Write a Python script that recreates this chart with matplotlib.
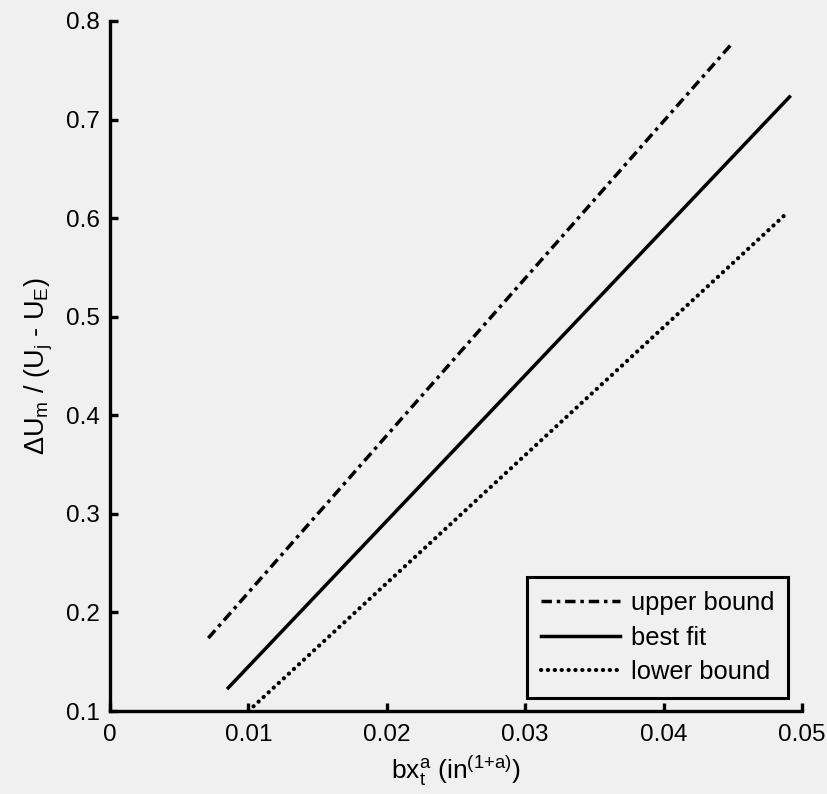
import matplotlib
matplotlib.use("Agg")
import matplotlib.pyplot as plt

plt.rcParams['font.family'] = ['Liberation Sans', 'DejaVu Sans']
plt.rcParams['mathtext.fontset'] = 'custom'
plt.rcParams['mathtext.rm'] = 'Liberation Sans'
plt.rcParams['mathtext.it'] = 'Liberation Sans'
plt.rcParams['mathtext.bf'] = 'Liberation Sans:bold'

# Data (endpoints of straight lines)
labels = ['upper bound', 'best fit', 'lower bound']
upper_x = [0.0071, 0.0450]
upper_y = [0.174, 0.778]
best_x = [0.00854, 0.0491]
best_y = [0.1235, 0.723]
lower_x = [0.0100, 0.0489]
lower_y = [0.100, 0.605]
xticks = [0, 0.01, 0.02, 0.03, 0.04, 0.05]
xticklabels = ['0', '0.01', '0.02', '0.03', '0.04', '0.05']
yticks = [0.1, 0.2, 0.3, 0.4, 0.5, 0.6, 0.7, 0.8]
yticklabels = ['0.1', '0.2', '0.3', '0.4', '0.5', '0.6', '0.7', '0.8']

bg = '#f0f0f0'
fig = plt.figure(figsize=(8.28, 7.94), dpi=100, facecolor=bg)
ax = fig.add_axes([0.1329, 0.1045, 0.8357, 0.8691])
ax.set_facecolor(bg)

lw = 2.5
ax.plot(upper_x, upper_y, color='black', lw=lw, linestyle=(0, (3.0, 1.4, 1.0, 1.4)), label=labels[0])
ax.plot(best_x, best_y, color='black', lw=lw, linestyle='-', label=labels[1])
ax.plot(lower_x, lower_y, color='black', lw=3.0, linestyle=(0, (0.05, 1.6)),
        dash_capstyle='round', label=labels[2])

ax.set_xlim(0, 0.05)
ax.set_ylim(0.1, 0.8)
ax.set_xticks(xticks)
ax.set_xticklabels(xticklabels)
ax.set_yticks(yticks)
ax.set_yticklabels(yticklabels)

for s in ['top', 'right']:
    ax.spines[s].set_visible(False)
for s in ['left', 'bottom']:
    ax.spines[s].set_linewidth(2.4)
ax.tick_params(direction='in', length=6, width=2.4, labelsize=17.5)
ax.tick_params(axis='x', pad=9)
ax.tick_params(axis='y', pad=7.5)

ax.set_xlabel(r'bx$_\mathregular{t}^\mathregular{a}$ (in$^{\mathregular{(1{+}a)}}$)', fontsize=19, labelpad=6)
ax.set_ylabel(r'$\mathregular{\Delta U_m}$ / (U$_\mathregular{j}$ - U$_\mathregular{E}$)', fontsize=19.5, labelpad=8)

leg = ax.legend(loc='lower right', bbox_to_anchor=(0.98, 0.019), fontsize=18.4,
                frameon=True, fancybox=False, edgecolor='black', facecolor=bg,
                framealpha=1, handlelength=3.1, handletextpad=0.4, borderpad=0.55,
                labelspacing=0.4, borderaxespad=0)
leg.get_frame().set_linewidth(2.2)

fig.savefig('out.png', dpi=100, facecolor=bg)
